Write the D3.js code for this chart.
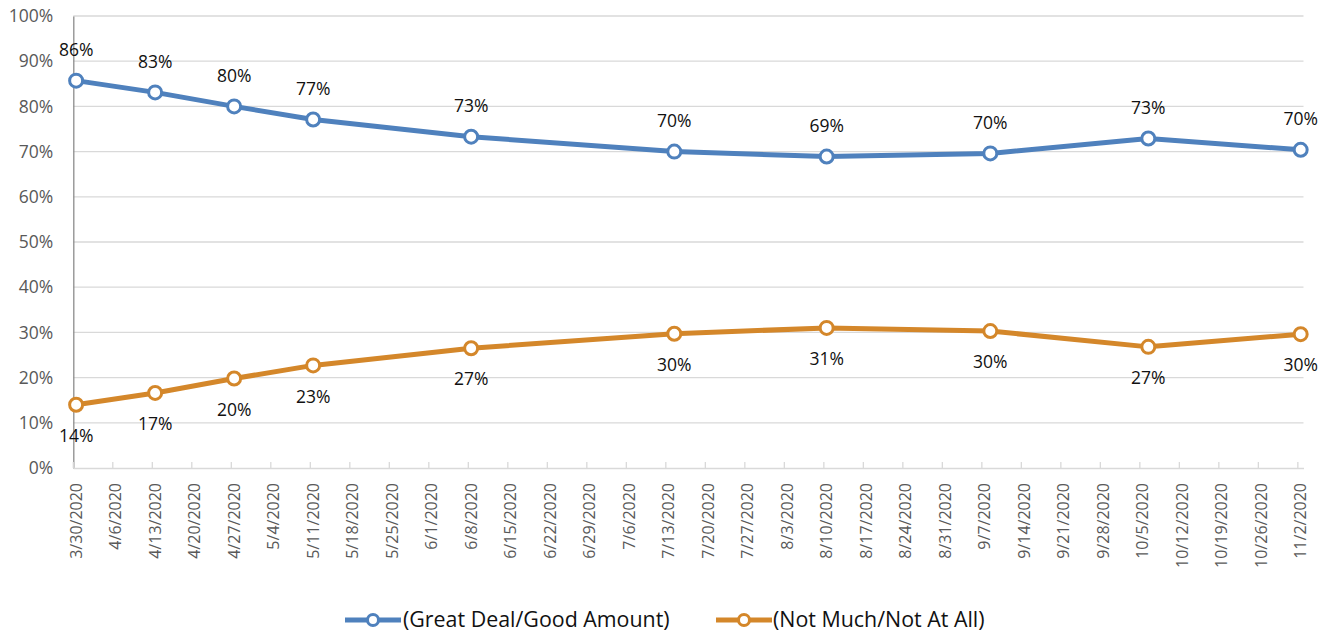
<!DOCTYPE html>
<html>
<head>
<meta charset="utf-8">
<script src="https://cdn.jsdelivr.net/npm/d3@7"></script>
<style>
  html, body { margin: 0; padding: 0; background: #fff; }
  svg { display: block; font-family: "Open Sans", sans-serif; }
</style>
</head>
<body>
<svg id="chart" width="1330" height="635"></svg>
<script>
// ---- data ----
const dates = ["2020-03-30", "2020-04-13", "2020-04-27", "2020-05-11", "2020-06-08",
               "2020-07-14", "2020-08-10", "2020-09-08", "2020-10-06", "2020-11-02"];
const greatDeal = [85.7, 83.1, 80.0, 77.1, 73.3, 70.0, 68.9, 69.6, 72.9, 70.4];
const notMuch   = [14.0, 16.6, 19.8, 22.7, 26.5, 29.7, 31.0, 30.3, 26.8, 29.6];
const seriesNames = ["(Great Deal/Good Amount)", "(Not Much/Not At All)"];
const yTicks = [0, 10, 20, 30, 40, 50, 60, 70, 80, 90, 100];
const axisStart = "2020-03-30", axisEnd = "2020-11-03";

const colors = ["#4F81BD", "#D4872A"];
const parse = d3.utcParse("%Y-%m-%d");
const HALF_DAY = 12 * 3600 * 1000;

const svg = d3.select("#chart");
const plotLeft = 73.3, plotRight = 1303.5, plotTop = 16, plotBottom = 468;

const x = d3.scaleUtc().domain([parse(axisStart), parse(axisEnd)]).range([plotLeft, plotRight]);
const y = d3.scaleLinear().domain([0, 100]).range([plotBottom, plotTop]);

const weekTicks = d3.utcMonday.range(parse(axisStart), parse(axisEnd));
const xPos = d => x(new Date(d.getTime() + HALF_DAY));

// gridlines
svg.append("g").selectAll("line").data(yTicks.filter(t => t > 0)).join("line")
  .attr("x1", plotLeft).attr("x2", plotRight)
  .attr("y1", d => y(d)).attr("y2", d => y(d))
  .attr("stroke", "#d9d9d9").attr("stroke-width", 1.3);

// y axis
const yAxis = svg.append("g").attr("transform", `translate(${plotLeft},0)`)
  .call(d3.axisLeft(y).tickValues(yTicks).tickFormat(d => d + "%").tickSize(0).tickPadding(20));
yAxis.select(".domain").attr("stroke", "#8c8c8c").attr("stroke-width", 1.3);
yAxis.selectAll("text").attr("fill", "#595959").style("font-size", "17.5px")
  .style("font-family", "'Open Sans', sans-serif");

// x axis
const xAxis = svg.append("g").attr("transform", `translate(0,${plotBottom})`)
  .call(d3.axisBottom(x).tickValues(weekTicks).tickSize(0).tickFormat(() => ""));
xAxis.select(".domain").attr("stroke", "#d9d9d9").attr("stroke-width", 1.5);
xAxis.selectAll(".tick line").remove();
svg.append("g").selectAll("line").data(weekTicks).join("line")
  .attr("x1", d => x(d)).attr("x2", d => x(d))
  .attr("y1", plotBottom - 6).attr("y2", plotBottom)
  .attr("stroke", "#d9d9d9").attr("stroke-width", 1.3);
const fmtDate = d3.utcFormat("%-m/%-d/%Y");
svg.append("g").selectAll("text").data(weekTicks).join("text")
  .attr("transform", d => `translate(${xPos(d)},${plotBottom + 15}) rotate(-90)`)
  .attr("text-anchor", "end").attr("dy", "0.35em")
  .attr("fill", "#595959").style("font-size", "16px")
  .text(d => fmtDate(d));

// series
const series = [greatDeal, notMuch];
const line = d3.line().x(d => xPos(d.date)).y(d => y(d.v));
series.forEach((vals, i) => {
  const pts = vals.map((v, j) => ({ date: parse(dates[j]), v }));
  svg.append("path").datum(pts)
    .attr("d", line).attr("fill", "none")
    .attr("stroke", colors[i]).attr("stroke-width", 5)
    .attr("stroke-linejoin", "round").attr("stroke-linecap", "round");
  svg.append("g").selectAll("circle").data(pts).join("circle")
    .attr("cx", d => xPos(d.date)).attr("cy", d => y(d.v)).attr("r", 6.5)
    .attr("fill", "#fff").attr("stroke", colors[i]).attr("stroke-width", 3);
  svg.append("g").selectAll("text").data(pts).join("text")
    .attr("x", d => xPos(d.date))
    .attr("y", d => y(d.v) + (i === 0 ? -31 : 31))
    .attr("dy", "0.35em").attr("text-anchor", "middle")
    .attr("fill", "#111").style("font-size", "17.5px")
    .text(d => Math.round(d.v) + "%");
});

// legend
const legendY = 620;
const legendItems = [{ x0: 345, tx: 403 }, { x0: 716, tx: 773 }];
legendItems.forEach((it, i) => {
  const g = svg.append("g");
  g.append("line").attr("x1", it.x0).attr("x2", it.x0 + 56)
    .attr("y1", legendY).attr("y2", legendY)
    .attr("stroke", colors[i]).attr("stroke-width", 5);
  g.append("circle").attr("cx", it.x0 + 28).attr("cy", legendY).attr("r", 5.5)
    .attr("fill", "#fff").attr("stroke", colors[i]).attr("stroke-width", 3);
  g.append("text").attr("x", it.tx).attr("y", legendY).attr("dy", "0.35em")
    .attr("fill", "#111").style("font-size", "21.4px").text(seriesNames[i]);
});
</script>
</body>
</html>
